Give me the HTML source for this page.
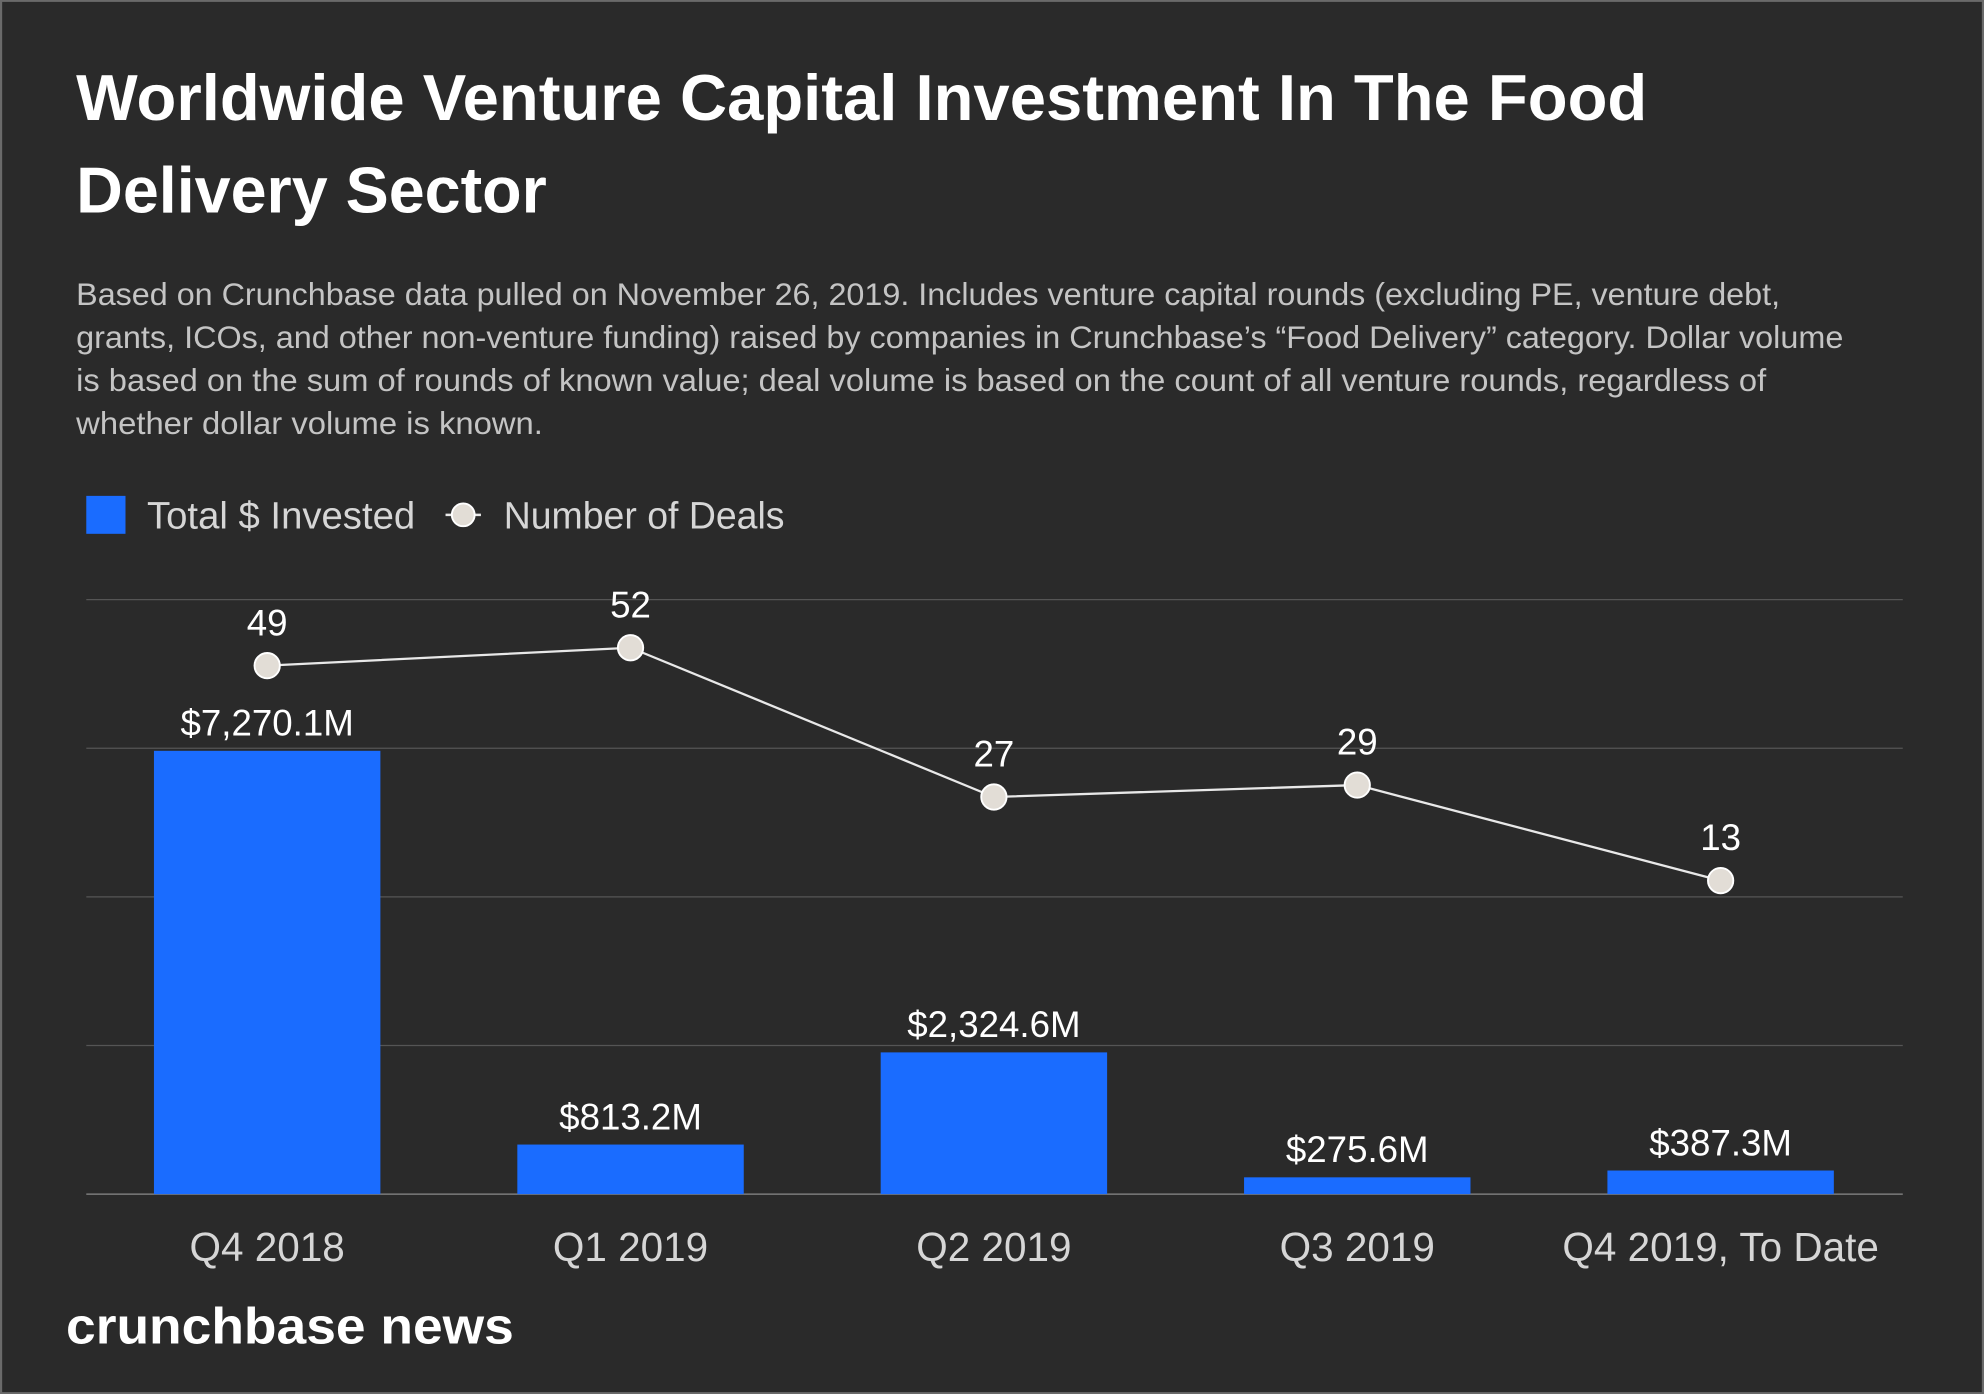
<!DOCTYPE html>
<html><head><meta charset="utf-8"><style>
html,body{margin:0;padding:0;background:#2a2a2a;}
svg{display:block;}
text{font-family:"Liberation Sans",sans-serif;}
</style></head><body>
<svg id="chart" width="1984" height="1394" viewBox="0 0 1568 1102" xmlns="http://www.w3.org/2000/svg">
<rect x="0" y="0" width="1568" height="1102" fill="#2a2a2a" stroke="#6a6a6a" stroke-width="3"/>
<text x="60" y="95" fill="#ffffff" font-size="51.5" font-weight="bold"><tspan x="60" y="95" textLength="1242" lengthAdjust="spacingAndGlyphs">Worldwide Venture Capital Investment In The Food</tspan><tspan x="60" y="168" textLength="372" lengthAdjust="spacingAndGlyphs">Delivery Sector</tspan></text>
<g fill="#c4c4c4" font-size="25">
<text x="60" y="241" textLength="1347" lengthAdjust="spacingAndGlyphs">Based on Crunchbase data pulled on November 26, 2019. Includes venture capital rounds (excluding PE, venture debt,</text>
<text x="60" y="275" textLength="1397" lengthAdjust="spacingAndGlyphs">grants, ICOs, and other non-venture funding) raised by companies in Crunchbase’s “Food Delivery” category. Dollar volume</text>
<text x="60" y="309" textLength="1336" lengthAdjust="spacingAndGlyphs">is based on the sum of rounds of known value; deal volume is based on the count of all venture rounds, regardless of</text>
<text x="60" y="343" textLength="369" lengthAdjust="spacingAndGlyphs">whether dollar volume is known.</text>
</g>
<g>
<rect x="68" y="392" width="31" height="30" fill="#1a6cff"/>
<text x="116" y="418" fill="#d6d6d6" font-size="30" textLength="212" lengthAdjust="spacingAndGlyphs">Total $ Invested</text>
<line x1="352" y1="407" x2="380" y2="407" stroke="#e8e8e8" stroke-width="2"/>
<circle cx="366" cy="407" r="9" fill="#e2ddd6" stroke="#fff" stroke-width="1.5"/>
<text x="398" y="418" fill="#d6d6d6" font-size="30" textLength="222" lengthAdjust="spacingAndGlyphs">Number of Deals</text>
</g>
<g id="grid"></g><g id="bars"></g><g id="line"></g><g id="labels"></g>
<text x="52" y="1062" fill="#ffffff" font-size="40" font-weight="bold" textLength="354" lengthAdjust="spacingAndGlyphs">crunchbase news</text>
<script>
const categories = ["Q4 2018","Q1 2019","Q2 2019","Q3 2019","Q4 2019, To Date"];
const invested = [7270.1, 813.2, 2324.6, 275.6, 387.3];
const investedLabels = ["$7,270.1M","$813.2M","$2,324.6M","$275.6M","$387.3M"];
const deals = [49, 52, 27, 29, 13];
const gridValues = [0, 2437.5, 4875, 7312.5, 9750];

const NS="http://www.w3.org/2000/svg";
const plotL=68, plotR=1504, plotBase=944, plotTop=474;
function yBar(v){return plotBase-(v/9750)*(plotBase-plotTop);}
function yDeal(v){return 757.5-4.72*v;}
function xCat(i){return 211+i*287.25;}
function mk(tag,attrs,parent){const e=document.createElementNS(NS,tag);for(const k in attrs)e.setAttribute(k,attrs[k]);document.getElementById(parent).appendChild(e);return e;}

gridValues.forEach((g,i)=>{
  const l=mk("line",{x1:plotL,x2:plotR,y1:yBar(g),y2:yBar(g),stroke:i===0?"#8a8a8a":"#555",'stroke-width':1},"grid");
  
  
});
invested.forEach((v,i)=>{
  const y=yBar(v);
  const r=mk("rect",{x:xCat(i)-89.5,y:y,width:179,height:plotBase-y,fill:"#1a6cff"},"bars");
  
  
  const t=mk("text",{x:xCat(i),y:y-12,fill:"#fff","font-size":29,"text-anchor":"middle"},"labels");
  t.textContent=investedLabels[i];
  
  
  const c=mk("text",{x:xCat(i),y:997,fill:"#d6d6d6","font-size":32,"text-anchor":"middle"},"labels");
  c.textContent=categories[i];
  
  
});
const pts=deals.map((d,i)=>xCat(i)+","+yDeal(d)).join(" ");
const pl=mk("polyline",{points:pts,fill:"none",stroke:"#e8e8e8","stroke-width":1.8},"line");


deals.forEach((d,i)=>{
  const c=mk("circle",{cx:xCat(i),cy:yDeal(d),r:10,fill:"#e2ddd6",stroke:"#fff","stroke-width":1.5},"line");
  
  
  const t=mk("text",{x:xCat(i),y:yDeal(d)-24,fill:"#fff","font-size":29,"text-anchor":"middle"},"labels");
  t.textContent=d;
  
  
});
</script>
</svg>
</body></html>
